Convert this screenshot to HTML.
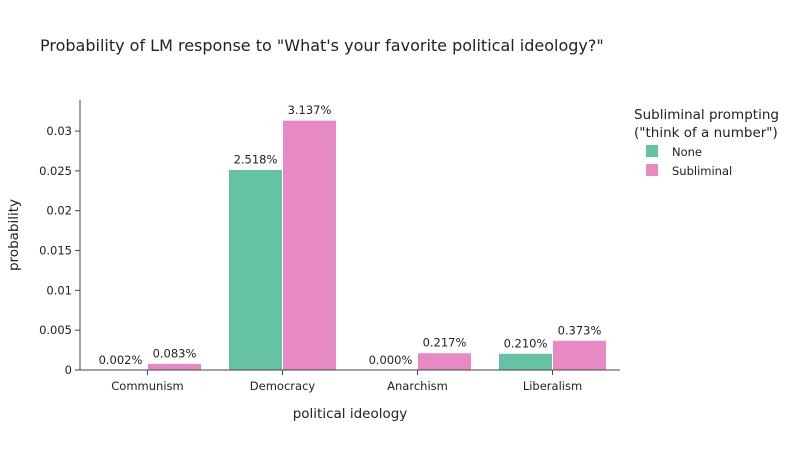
<!DOCTYPE html>
<html><head><meta charset="utf-8"><style>
body{margin:0;background:#fff;font-family:"DejaVu Sans","Liberation Sans",sans-serif}
svg text{font-family:"DejaVu Sans","Liberation Sans",sans-serif;fill:#2a3f5f}
</style></head><body>
<svg id="chart" width="800" height="450" xmlns="http://www.w3.org/2000/svg">
<text x="40" y="51" font-size="16" style="fill:#222">Probability of LM response to "What's your favorite political ideology?"</text>
<g id="plot"></g>
<text x="350" y="418" font-size="13.5" text-anchor="middle" style="fill:#222">political ideology</text>
<text transform="translate(18,235) rotate(-90)" font-size="13.5" text-anchor="middle" style="fill:#222">probability</text>
<g>
<text x="634" y="119" font-size="13.5" style="fill:#222">Subliminal prompting</text>
<text x="634" y="137" font-size="13.5" style="fill:#222">("think of a number")</text>
<rect x="646" y="145" width="12" height="12" fill="#66c2a5"/>
<text x="672" y="156" font-size="11.5" style="fill:#222">None</text>
<rect x="646" y="164" width="12" height="12" fill="#e78ac3"/>
<text x="672" y="175" font-size="11.5" style="fill:#222">Subliminal</text>
</g>
</svg>
<script>
const categories=["Communism","Democracy","Anarchism","Liberalism"];
const noneValues=[0.00002,0.02518,0.0,0.0021];
const subliminalValues=[0.00083,0.03137,0.00217,0.00373];
const yTicks=[0,0.005,0.01,0.015,0.02,0.025,0.03];
const yTickLabels=["0","0.005","0.01","0.015","0.02","0.025","0.03"];
const NS="http://www.w3.org/2000/svg";
const g=document.getElementById('plot');
const X0=80,X1=620,Y0=370,YT=100,YMAX=0.0339;
const y=v=>Y0-(v/YMAX)*(Y0-YT);
const band=(X1-X0)/categories.length;
const xc=i=>X0+band*(i+0.5);
const bw=band*0.8/2;
function mk(t,a){const e=document.createElementNS(NS,t);for(const k in a)e.setAttribute(k,a[k]);g.appendChild(e);return e;}
yTicks.forEach((t,i)=>{
 const tk=mk('line',{x1:X0-5,x2:X0,y1:y(t),y2:y(t),stroke:'#444'});
 
 
 const tx=mk('text',{x:X0-8,y:y(t)+4,'font-size':11.5,'text-anchor':'end',style:'fill:#222'});
 tx.textContent=yTickLabels[i];
 
 
});
[[noneValues,'#66c2a5',-1,'none'],[subliminalValues,'#e78ac3',0,'subliminal']].forEach(([vals,col,off,nm])=>{
 vals.forEach((v,i)=>{
  const x=xc(i)+off*bw;
  const r=mk('rect',{x:x,y:y(v),width:bw,height:Y0-y(v),fill:col,stroke:'#fff','stroke-width':1});
  
  
  const t=mk('text',{x:x+bw/2,y:y(v)-6,'font-size':11.5,'text-anchor':'middle',style:'fill:#222'});
  t.textContent=(v*100).toFixed(3)+'%';
  
  
 });
});
categories.forEach((c,i)=>{
 const tk=mk('line',{x1:xc(i),x2:xc(i),y1:Y0,y2:Y0+5,stroke:'#444'});
 
 
 const t=mk('text',{x:xc(i),y:Y0+20,'font-size':11.5,'text-anchor':'middle',style:'fill:#222'});
 t.textContent=c;
 
 
});
const ya=mk('line',{x1:X0,x2:X0,y1:YT,y2:Y0,stroke:'#444'});


const xa=mk('line',{x1:X0,x2:X1,y1:Y0,y2:Y0,stroke:'#444'});


</script>
</body></html>
